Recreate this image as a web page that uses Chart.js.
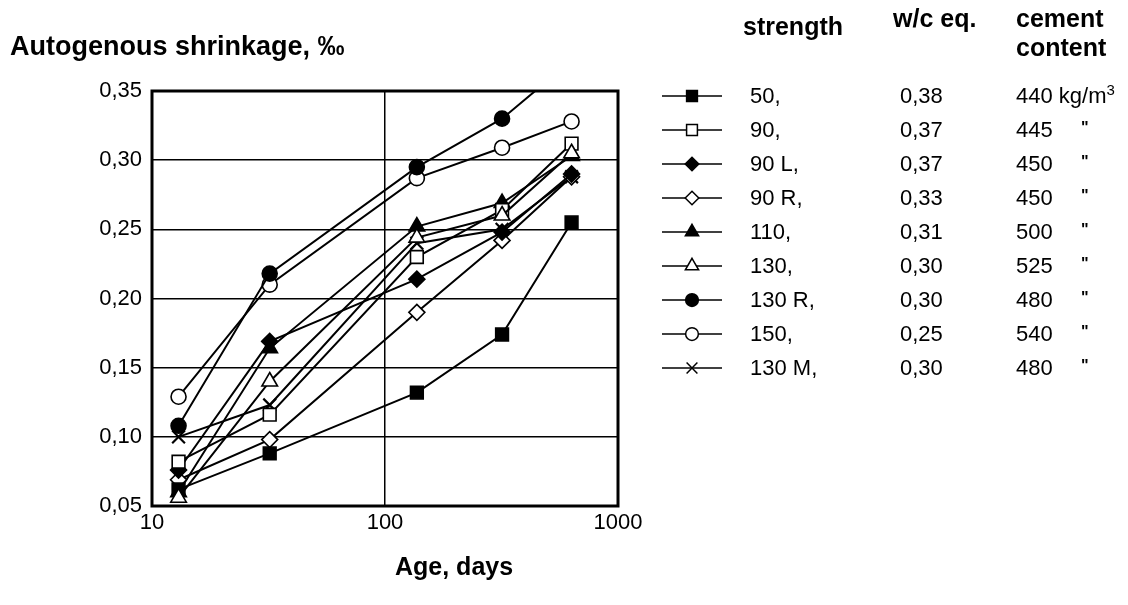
<!DOCTYPE html>
<html>
<head>
<meta charset="utf-8">
<script src="https://cdn.jsdelivr.net/npm/chart.js@4/dist/chart.umd.min.js"></script>
<style>
  body { margin: 0; background: #fff; font-family: "Liberation Sans", Arial, sans-serif; color: #000; }
  #wrap { position: relative; width: 1128px; height: 605px; overflow: hidden; }
  #chart { position: absolute; left: 0; top: 0; }
  .t { position: absolute; white-space: nowrap; line-height: 1; transform: translateY(-50%); }
  .b { font-weight: bold; font-size: 25px; }
  .r { font-size: 22px; }
  sup { font-size: 15px; vertical-align: 8px; line-height: 0; }
</style>
</head>
<body>
<div id="wrap">
  <canvas id="chart" width="1128" height="605"></canvas>
  <div class="t b" style="left:10px; top:46px; font-size:27px;">Autogenous shrinkage, ‰</div>
  <div class="t b" style="left:395px; top:566px;">Age, days</div>
  <div class="t b" style="left:743px; top:26px;">strength</div>
  <div class="t b" style="left:893px; top:18px;">w/c eq.</div>
  <div class="t b" style="left:1016px; top:18px;">cement</div>
  <div class="t b" style="left:1016px; top:47px;">content</div>
  <div id="legendText"></div>
</div>
<script>
// ages (days) where the measurements were taken
const days = [13, 32, 137, 318, 632];

// legend table
const strengthLabels = ['50,', '90,', '90 L,', '90 R,', '110,', '130,', '130 R,', '150,', '130 M,'];
const wcLabels = ['0,38', '0,37', '0,37', '0,33', '0,31', '0,30', '0,30', '0,25', '0,30'];
const cementLabels = ['440 kg/m<sup>3</sup>', '445', '450', '450', '500', '525', '480', '540', '480'];

// autogenous shrinkage, ‰
const s50 = [0.062, 0.088, 0.132, 0.174, 0.255];
const s90 = [0.082, 0.116, 0.230, 0.264, 0.312];
const s90L = [0.076, 0.169, 0.214, 0.248, 0.290];
const s90R = [0.069, 0.098, 0.190, 0.242, 0.288];
const s110 = [0.060, 0.164, 0.252, 0.269, 0.303];
const s130 = [0.056, 0.140, 0.244, 0.260, 0.305];
const s130R = [0.108, 0.218, 0.295, 0.330, 0.372];
const s150 = [0.129, 0.210, 0.287, 0.309, 0.328];
const s130M = [0.100, 0.123, 0.240, 0.250, 0.288];

// axis ticks
const xTicks = [10, 100, 1000];
const yTicks = [0.05, 0.10, 0.15, 0.20, 0.25, 0.30, 0.35];

const seriesValues = [s50, s90, s90L, s90R, s110, s130, s130R, s150, s130M];

// marker looks, same order as the series (lower order = drawn on top)
const markers = [
    { style: 'rect', fill: '#000', r: 9, order: 0 },
    { style: 'rect', fill: '#fff', r: 9, order: 0 },
    { style: 'rectRot', fill: '#000', r: 8, order: 0 },
    { style: 'rectRot', fill: '#fff', r: 8, order: 0 },
    { style: 'triangle', fill: '#000', r: 9, order: 0 },
    { style: 'triangle', fill: '#fff', r: 9, order: -1 },
    { style: 'circle', fill: '#000', r: 7.5, order: 0 },
    { style: 'circle', fill: '#fff', r: 7.5, order: 0 },
    { style: 'crossRot', fill: '#000', r: 9, order: 0 },
];

const datasets = seriesValues.map((vals, i) => ({
    label: strengthLabels[i],
    data: vals.map((v, k) => ({ x: days[k], y: v })),
    order: markers[i].order,
    borderColor: '#000',
    borderWidth: 2,
    pointStyle: markers[i].style,
    pointRadius: markers[i].r,
    pointBackgroundColor: markers[i].fill,
    pointBorderColor: '#000',
    pointBorderWidth: markers[i].style === 'crossRot' ? 2.2 : 1.6,
    tension: 0,
}));

// legend rows
const legendTop = 96, rowGap = 34;
const legendText = document.getElementById('legendText');
strengthLabels.forEach((s, i) => {
    const y = legendTop + i * rowGap;
    legendText.insertAdjacentHTML('beforeend',
        `<div class="t r" style="left:750px; top:${y}px;">${s}</div>` +
        `<div class="t r" style="left:900px; top:${y}px;">${wcLabels[i]}</div>` +
        `<div class="t r" style="left:1016px; top:${y}px;">${cementLabels[i]}</div>` +
        (i > 0 ? `<div class="t r" style="left:1081px; top:${y - 2}px; font-size:16px; font-weight:bold;">"</div>` : ''));
});

// frame round the plot + legend symbols
const framePlugin = {
    id: 'frame',
    afterDraw(chart) {
        const { ctx, chartArea: a } = chart;
        ctx.save();
        ctx.strokeStyle = '#000';
        ctx.lineWidth = 3;
        ctx.strokeRect(a.left, a.top, a.right - a.left, a.bottom - a.top);

        chart.data.datasets.forEach((ds, i) => {
            const y = legendTop + i * rowGap;
            ctx.lineWidth = 1.5;
            ctx.strokeStyle = '#000';
            ctx.beginPath();
            ctx.moveTo(662, y);
            ctx.lineTo(722, y);
            ctx.stroke();
            ctx.fillStyle = ds.pointBackgroundColor;
            Chart.helpers.drawPoint(ctx, {
                pointStyle: ds.pointStyle,
                radius: ds.pointRadius * 0.85,
                rotation: 0,
                borderWidth: 1.5,
            }, 692, y);
        });
        ctx.restore();
    }
};

new Chart(document.getElementById('chart'), {
    type: 'line',
    data: { datasets },
    plugins: [framePlugin],
    options: {
        responsive: false,
        animation: false,
        layout: { padding: { left: 0, top: 91, right: 510, bottom: 59 } },
        plugins: { legend: { display: false }, tooltip: { enabled: false } },
        scales: {
            x: {
                type: 'logarithmic',
                min: 10,
                max: 1000,
                afterBuildTicks: s => { s.ticks = xTicks.map(v => ({ value: v })); },
                afterFit: s => { s.height = 40; },
                ticks: {
                    color: '#000',
                    font: { family: 'Liberation Sans', size: 22 },
                    padding: 4,
                    maxRotation: 0,
                    autoSkip: false,
                    callback: v => String(v),
                },
                grid: { color: '#000', lineWidth: 1.5, drawTicks: false },
                border: { display: false },
            },
            y: {
                min: 0.05,
                max: 0.35,
                afterBuildTicks: s => { s.ticks = yTicks.map(v => ({ value: v })); },
                afterFit: s => { s.width = 152; },
                ticks: {
                    color: '#000',
                    font: { family: 'Liberation Sans', size: 22 },
                    padding: 10,
                    callback: v => v.toFixed(2).replace('.', ','),
                },
                grid: { color: '#000', lineWidth: 1.5, drawTicks: false },
                border: { display: false },
            }
        }
    }
});
</script>
</body>
</html>
